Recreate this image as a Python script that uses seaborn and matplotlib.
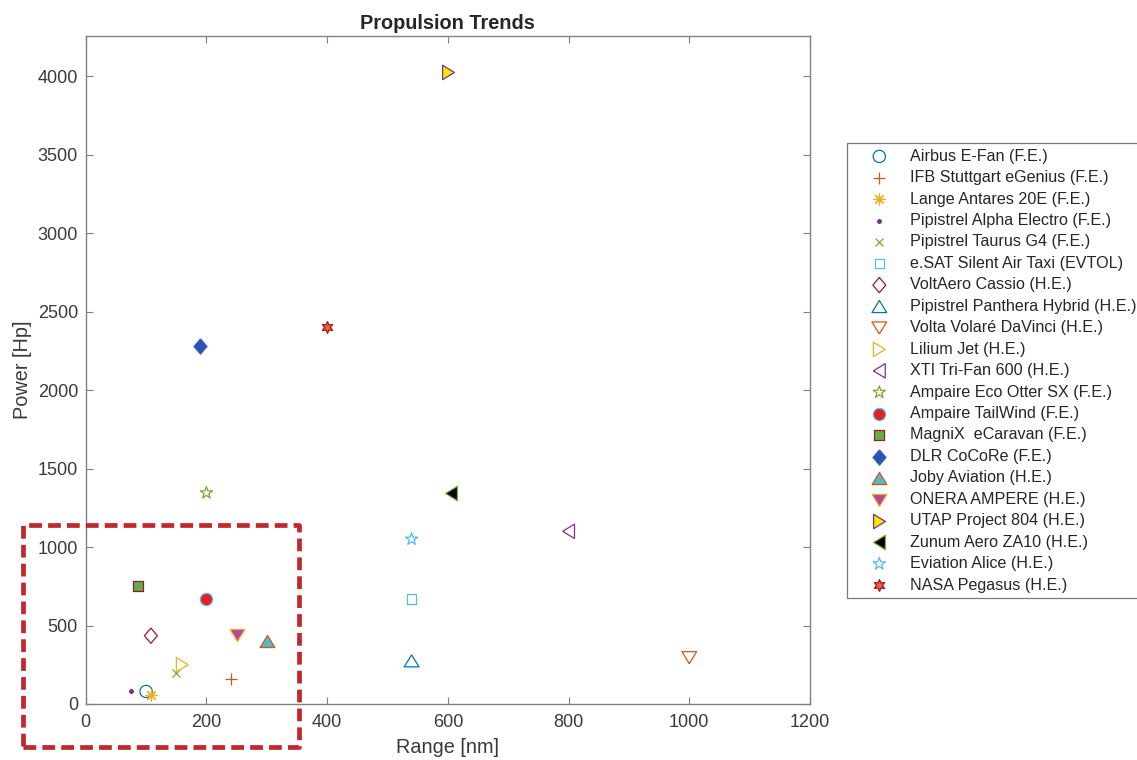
import matplotlib
matplotlib.use("Agg")
import matplotlib.pyplot as plt
import matplotlib.patches as mpatches
import seaborn as sns
import pandas as pd

# ---------------- data ----------------
names = [
    "Airbus E-Fan (F.E.)",
    "IFB Stuttgart eGenius (F.E.)",
    "Lange Antares 20E (F.E.)",
    "Pipistrel Alpha Electro (F.E.)",
    "Pipistrel Taurus G4 (F.E.)",
    "e.SAT Silent Air Taxi (EVTOL)",
    "VoltAero Cassio (H.E.)",
    "Pipistrel Panthera Hybrid (H.E.)",
    "Volta Volaré DaVinci (H.E.)",
    "Lilium Jet (H.E.)",
    "XTI Tri-Fan 600 (H.E.)",
    "Ampaire Eco Otter SX (F.E.)",
    "Ampaire TailWind (F.E.)",
    "MagniX  eCaravan (F.E.)",
    "DLR CoCoRe (F.E.)",
    "Joby Aviation (H.E.)",
    "ONERA AMPERE (H.E.)",
    "UTAP Project 804 (H.E.)",
    "Zunum Aero ZA10 (H.E.)",
    "Eviation Alice (H.E.)",
    "NASA Pegasus (H.E.)",
]
range_nm = [100, 240, 108, 75, 150, 540, 108, 540, 1000, 160, 800,
            200, 200, 86, 190, 300, 250, 600, 605, 540, 400]
power_hp = [80, 160, 56, 80, 200, 670, 435, 275, 295, 250, 1100,
            1345, 670, 750, 2280, 404, 438, 4025, 1345, 1050, 2400]

# ---------------- styles ----------------
h = 0.82
tri_up = [(0, h), (-1, -h), (1, -h), (0, h)]
tri_dn = [(0, -h), (-1, h), (1, h), (0, -h)]
tri_rt = [(h, 0), (-h, 1), (-h, -1), (h, 0)]
tri_lt = [(-h, 0), (h, 1), (h, -1), (-h, 0)]
diamond = [(0, 1), (0.85, 0), (0, -1), (-0.85, 0), (0, 1)]
asterisk = (8, 2, 0)
hexagram = (6, 1, 0)

B, O, Y, P, G, C, R = "#0072BD", "#D95319", "#EDB120", "#7E2F8E", "#77AC30", "#4DBEEE", "#A2142F"

# (marker, size s, facecolor, edgecolor) ; facecolor None -> unfilled line marker
styles = [
    ("o", 78, "none", B),
    ("+", 66, None, O),
    (asterisk, 62, None, Y),
    (".", 28, P, P),
    ("x", 34, None, G),
    ("s", 48, "none", C),
    (diamond, 120, "none", R),
    (tri_up, 112, "none", B),
    (tri_dn, 112, "none", O),
    (tri_rt, 108, "none", Y),
    (tri_lt, 108, "none", P),
    ("*", 86, "none", G),
    ("o", 78, "#EC1C24", C),
    ("s", 48, "#5DB245", R),
    (diamond, 120, "#2B52B5", "#2F5FC0"),
    (tri_up, 112, "#4CBFC6", O),
    (tri_dn, 112, "#B4479C", Y),
    (tri_rt, 108, "#F3EA00", P),
    (tri_lt, 108, "#000000", G),
    ("*", 86, "none", C),
    (hexagram, 72, "#F26522", R),
]

df = pd.DataFrame({"name": names, "range": range_nm, "power": power_hp})

sns.set_theme(style="white")
plt.rcParams["font.family"] = ["Liberation Sans", "DejaVu Sans"]

fig = plt.figure(figsize=(11.37, 7.6), dpi=100)
ax = fig.add_axes([85.7 / 1137, 1 - 704 / 760, (810 - 85.7) / 1137, (704 - 36) / 760])

handles = []
for i, row in df.iterrows():
    m, s, fc, ec = styles[i]
    d = df.iloc[[i]]
    if fc is None:
        sns.scatterplot(data=d, x="range", y="power", ax=ax, marker=m, s=s,
                        color=ec, linewidth=0.9, label=row["name"], legend=False)
    else:
        sns.scatterplot(data=d, x="range", y="power", ax=ax, marker=m, s=s,
                        facecolor=fc, edgecolor=ec, linewidth=0.9,
                        label=row["name"], legend=False)
    handles.append(ax.collections[-1])

ax.set_xlim(0, 1200)
ax.set_ylim(0, 4255)
ax.set_xticks([0, 200, 400, 600, 800, 1000, 1200])
ax.set_yticks([0, 500, 1000, 1500, 2000, 2500, 3000, 3500, 4000])

for sp in ax.spines.values():
    sp.set_color("#808080")
    sp.set_linewidth(1.0)
    sp.set_visible(True)
ax.tick_params(direction="in", top=True, right=True, bottom=True, left=True,
               length=5, width=0.8, color="#808080", labelcolor="#3a3a3a",
               labelsize=13)
ax.tick_params(axis="x", pad=7.5)
ax.tick_params(axis="y", pad=5.5)

ax.set_title("Propulsion Trends", fontsize=14.3, fontweight="bold", pad=5)
ax.set_xlabel("Range [nm]", fontsize=14.3, color="#3a3a3a", labelpad=5)
ax.set_ylabel("Power [Hp]", fontsize=14.3, color="#3a3a3a", labelpad=4)

leg = ax.legend(handles, names, loc="upper left",
                bbox_to_anchor=(846.7 / 1137, 1 - 143 / 760),
                bbox_transform=fig.transFigure, borderaxespad=0,
                fontsize=11.6, labelspacing=0.40, handlelength=3.35,
                handletextpad=0.22, borderpad=0.35, frameon=True,
                fancybox=False, framealpha=1, scatterpoints=1)
leg.get_frame().set_edgecolor("#7a7a7a")
leg.get_frame().set_linewidth(0.9)
for t in leg.get_texts():
    t.set_color("#262626")

rect = mpatches.Rectangle((22.7 / 1137, 1 - 746.7 / 760), (299 - 22.7) / 1137,
                          (746.7 - 525) / 760, transform=fig.transFigure,
                          fill=False, edgecolor="#C1272D", linewidth=3.4,
                          linestyle=(0, (2.7, 1.3)), joinstyle="round")
fig.add_artist(rect)

fig.savefig("out.png", dpi=100)
